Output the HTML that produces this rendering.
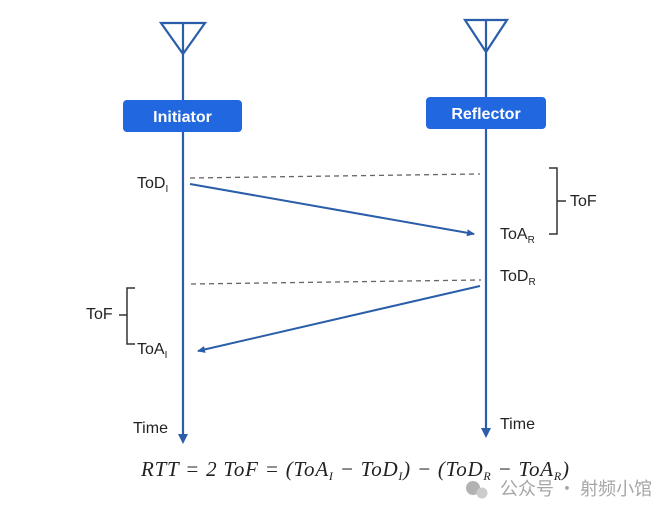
<!DOCTYPE html>
<html><head><meta charset="utf-8"><style>
body{margin:0;background:#fff;width:671px;height:512px;overflow:hidden}
svg text{font-family:"Liberation Sans",Arial,sans-serif;fill:#222}
</style></head><body>
<svg width="671" height="512" viewBox="0 0 671 512" xmlns="http://www.w3.org/2000/svg">
<defs>
<marker id="ah" markerWidth="8" markerHeight="8" refX="7" refY="4" orient="auto" markerUnits="userSpaceOnUse">
<path d="M0,0.5 L8,4 L0,7.5 z" fill="#2a5ea8"/></marker>
</defs>
<g stroke="#2a5ea8" stroke-width="2.2" fill="none">
<path d="M161,23 L205,23 L183,54 Z M183,23 L183,440"/>
<path d="M465,20 L507,20 L486,52 Z M486,20 L486,434"/>
</g>
<path d="M178,434 L183,444 L188,434 Z" fill="#2a5ea8"/>
<path d="M481,428 L486,438 L491,428 Z" fill="#2a5ea8"/>
<rect x="123" y="100" width="119" height="32" rx="4" fill="#2168e0"/>
<rect x="426" y="97" width="120" height="32" rx="4" fill="#2168e0"/>
<text x="182.5" y="122" text-anchor="middle" font-size="16" font-weight="bold" style="fill:#fff">Initiator</text>
<text x="486" y="119" text-anchor="middle" font-size="16" font-weight="bold" style="fill:#fff">Reflector</text>
<g stroke="#666" stroke-width="1.3" stroke-dasharray="5,4">
<line x1="190" y1="178" x2="480" y2="174"/>
<line x1="191" y1="284" x2="481" y2="280"/>
</g>
<g stroke="#2a5ea8" stroke-width="2" fill="none">
<line x1="190" y1="184" x2="474" y2="234" marker-end="url(#ah)"/>
<line x1="480" y1="286" x2="198" y2="351" marker-end="url(#ah)"/>
</g>
<g stroke="#333" stroke-width="1.5" fill="none">
<path d="M549,168 L557,168 L557,234 L549,234 M557,201 L566,201"/>
<path d="M135,288 L127,288 L127,344 L135,344 M119,315 L127,315"/>
</g>
<g font-size="16">
<text x="137" y="188">ToD<tspan font-size="10" dy="4">I</tspan></text>
<text x="500" y="239">ToA<tspan font-size="10" dy="4">R</tspan></text>
<text x="500" y="281">ToD<tspan font-size="10" dy="4">R</tspan></text>
<text x="137" y="354">ToA<tspan font-size="10" dy="4">I</tspan></text>
<text x="570" y="206">ToF</text>
<text x="86" y="319">ToF</text>
<text x="133" y="433">Time</text>
<text x="500" y="429">Time</text>
</g>
<text x="141" y="476" font-size="21" font-style="italic" textLength="428" lengthAdjust="spacing" style="font-family:'Liberation Serif',serif;fill:#222">RTT = 2 ToF = (ToA<tspan font-size="12" dy="4">I</tspan><tspan dy="-4"> − ToD</tspan><tspan font-size="12" dy="4">I</tspan><tspan dy="-4">) − (ToD</tspan><tspan font-size="12" dy="4">R</tspan><tspan dy="-4"> − ToA</tspan><tspan font-size="12" dy="4">R</tspan><tspan dy="-4">)</tspan></text>
<g opacity="0.75">
<circle cx="473" cy="488" r="7" fill="#999"/><circle cx="482" cy="493" r="5.5" fill="#bbb"/>
<text x="500" y="495" font-size="18" style="font-family:'Noto Sans CJK SC',sans-serif;fill:#888">公众号 · 射频小馆</text>
</g>
</svg>
</body></html>
